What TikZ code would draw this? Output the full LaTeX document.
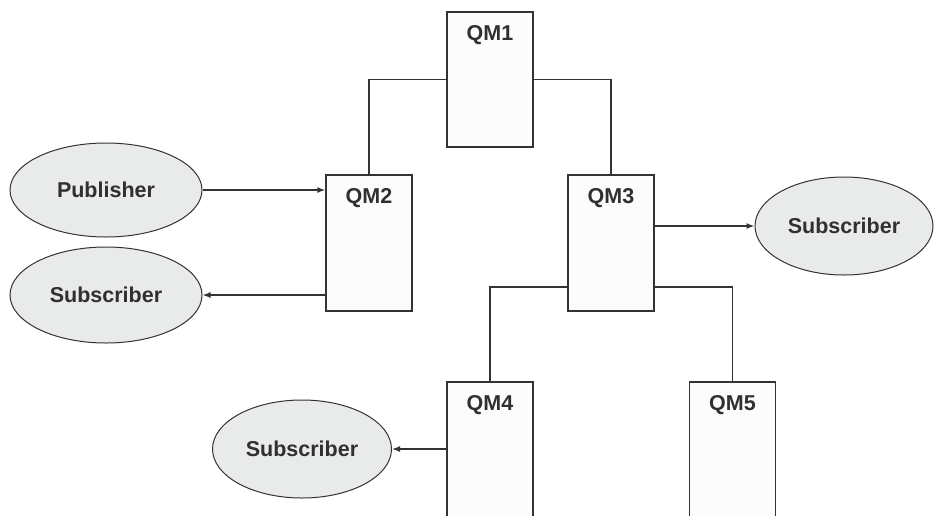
\documentclass[tikz,border=0pt]{standalone}
\usepackage{fontspec}
\setmainfont{Liberation Sans}
\usetikzlibrary{shapes.geometric,arrows.meta,calc}
\definecolor{boxline}{HTML}{333333}
\definecolor{boxfill}{HTML}{FCFCFC}
\definecolor{ellfill}{HTML}{E9EAEA}
\definecolor{txt}{HTML}{303030}
\begin{document}
\begin{tikzpicture}[x=1pt,y=-1pt,
  qmbox/.style={draw=boxline, fill=boxfill, line width=1.3pt, rectangle, inner sep=0pt, minimum width=86pt},
  qmlabel/.style={anchor=base, yshift=-29.5pt, inner sep=0pt, font=\fontsize{21.5}{25}\selectfont\bfseries, text=txt},
  client/.style={draw=boxline, fill=ellfill, line width=1pt, ellipse, inner sep=0pt, font=\fontsize{21.5}{25}\selectfont\bfseries, text=txt},
  link/.style={draw=boxline, line width=1.3pt},
  flow/.style={draw=boxline, line width=1.3pt, -{Latex[length=8pt,width=6pt]}}]
\useasboundingbox (0,0) rectangle (936,515);
\clip (0,0) rectangle (936,515);
\fill[white] (0,0) rectangle (936,515);

% queue managers
\node[qmbox, minimum height=135pt, label={[qmlabel]north:QM1}] (qm1) at (490,79.5) {};
\node[qmbox, minimum height=136pt, label={[qmlabel]north:QM2}] (qm2) at (369,243) {};
\node[qmbox, minimum height=136pt, label={[qmlabel]north:QM3}] (qm3) at (611,243) {};
\node[qmbox, minimum height=170pt, label={[qmlabel]north:QM4}] (qm4) at (490,467) {};
\node[qmbox, minimum height=170pt, label={[qmlabel]north:QM5}] (qm5) at (732.5,467) {};

% publishers and subscribers
\node[client, minimum width=192pt, minimum height=94pt] (pub) at (106,190) {Publisher};
\node[client, minimum width=192pt, minimum height=96pt] (sub1) at (106,295) {Subscriber};
\node[client, minimum width=178pt, minimum height=98pt] (sub2) at (844,226) {Subscriber};
\node[client, minimum width=179pt, minimum height=98pt] (sub3) at (302,449) {Subscriber};

% tree links
\coordinate (qm3l) at (568,287);
\coordinate (qm3r) at (654,287);
\draw[link] (qm1.west) -| (qm2.north);
\draw[link] (qm1.east) -| (qm3.north);
\draw[link] (qm3l) -| (qm4.north);
\draw[link] (qm3r) -| (qm5.north);

% message flows
\draw[flow] (pub.east) -- (pub.east -| qm2.west);
\draw[flow] (qm2.west |- sub1.east) -- (sub1.east);
\draw[flow] (qm3.east |- sub2.west) -- (sub2.west);
\draw[flow] (qm4.west |- sub3.east) -- (sub3.east);
\end{tikzpicture}
\end{document}
